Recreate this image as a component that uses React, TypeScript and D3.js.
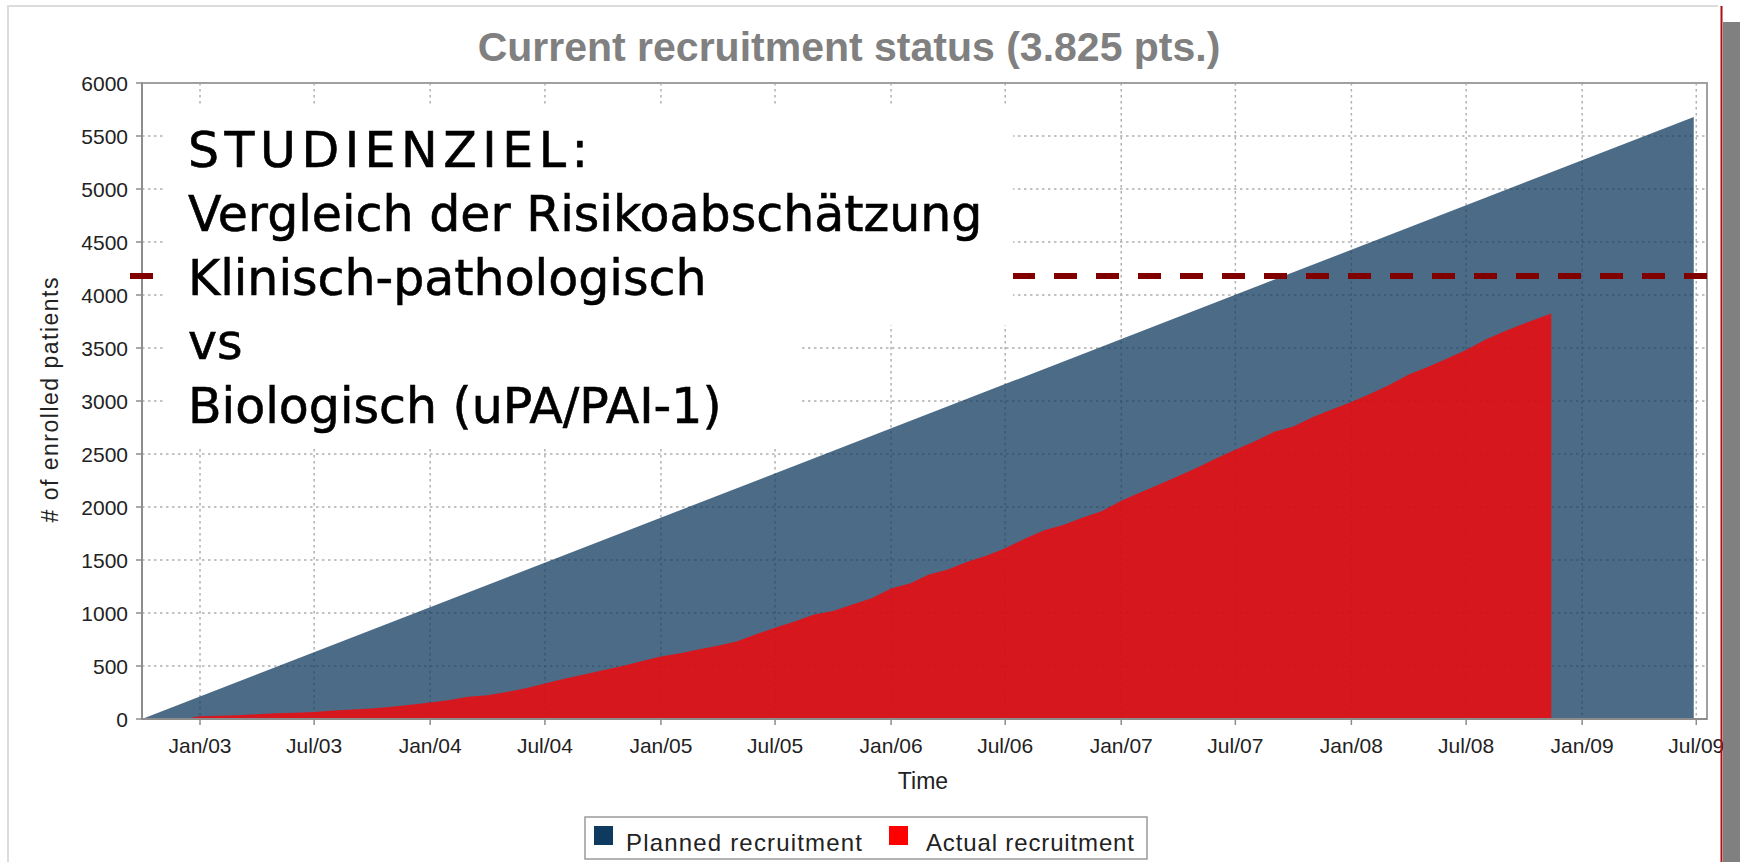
import { useMemo } from "react";
import * as d3 from "d3";

const WIDTH = 1740;
const HEIGHT = 862;
const PLOT = { left: 142, right: 1707, top: 83, bottom: 719 };

const TITLE = "Current recruitment status (3.825 pts.)";
const Y_TICKS = [0, 500, 1000, 1500, 2000, 2500, 3000, 3500, 4000, 4500, 5000, 5500, 6000];
const TARGET = 4180;

// planned recruitment: straight ramp
const plannedDates = ["2002-10-01", "2009-06-27"];
const plannedValues = [0, 5680];

// actual recruitment, cumulative per month
const actualDates = [
  "2002-12-19",
  "2003-01-01", "2003-02-01", "2003-03-01", "2003-04-01", "2003-05-01", "2003-06-01",
  "2003-07-01", "2003-08-01", "2003-09-01", "2003-10-01", "2003-11-01", "2003-12-01",
  "2004-01-01", "2004-02-01", "2004-03-01", "2004-04-01", "2004-05-01", "2004-06-01",
  "2004-07-01", "2004-08-01", "2004-09-01", "2004-10-01", "2004-11-01", "2004-12-01",
  "2005-01-01", "2005-02-01", "2005-03-01", "2005-04-01", "2005-05-01", "2005-06-01",
  "2005-07-01", "2005-08-01", "2005-09-01", "2005-10-01", "2005-11-01", "2005-12-01",
  "2006-01-01", "2006-02-01", "2006-03-01", "2006-04-01", "2006-05-01", "2006-06-01",
  "2006-07-01", "2006-08-01", "2006-09-01", "2006-10-01", "2006-11-01", "2006-12-01",
  "2007-01-01", "2007-02-01", "2007-03-01", "2007-04-01", "2007-05-01", "2007-06-01",
  "2007-07-01", "2007-08-01", "2007-09-01", "2007-10-01", "2007-11-01", "2007-12-01",
  "2008-01-01", "2008-02-01", "2008-03-01", "2008-04-01", "2008-05-01", "2008-06-01",
  "2008-07-01", "2008-08-01", "2008-09-01", "2008-10-01", "2008-11-13",
];
const actualValues = [
  15,
  25, 30, 35, 45, 55, 60, 65, 80, 90, 100, 115, 135,
  155, 180, 210, 225, 255, 290, 335, 380, 420, 460, 500, 545,
  590, 620, 655, 690, 730, 800, 860, 920, 985, 1020, 1080, 1140,
  1230, 1280, 1360, 1410, 1480, 1540, 1610, 1700, 1780, 1830, 1900, 1960,
  2060, 2140, 2210, 2290, 2370, 2460, 2540, 2620, 2710, 2760, 2850, 2920,
  2990, 3070, 3150, 3250, 3320, 3400, 3480, 3580, 3660, 3730, 3825,
];

const NOTE_LINES = [
  "STUDIENZIEL:",
  "Vergleich der Risikoabschätzung",
  "Klinisch-pathologisch",
  "vs",
  "Biologisch (uPA/PAI-1)",
];

const SANS = "Arial, 'Liberation Sans', Helvetica, sans-serif";
const NOTE_FONT = "'Comic Sans MS', 'DejaVu Sans', sans-serif";

export default function App() {
  const parse = d3.timeParse("%Y-%m-%d");

  const xScale = useMemo(
    () =>
      d3
        .scaleTime()
        .domain([new Date(2002, 9, 1), new Date(2009, 6, 18)])
        .range([PLOT.left, PLOT.right]),
    []
  );
  const yScale = useMemo(
    () => d3.scaleLinear().domain([0, 6000]).range([PLOT.bottom, PLOT.top]),
    []
  );

  const planned = plannedDates.map((d, i) => ({ date: parse(d)!, value: plannedValues[i] }));
  const actual = actualDates.map((d, i) => ({ date: parse(d)!, value: actualValues[i] }));

  const areaGen = d3
    .area<{ date: Date; value: number }>()
    .x((d) => xScale(d.date))
    .y0(yScale(0))
    .y1((d) => yScale(d.value));

  const xTicks = xScale.ticks(d3.timeMonth.every(6)!);
  const fmt = d3.timeFormat("%b/%y");

  const yTarget = yScale(TARGET);

  return (
    <svg
      width={WIDTH}
      height={HEIGHT}
      style={{ position: "absolute", left: 0, top: 0, background: "#fff" }}
    >
      {/* outer frame of the chart picture */}
      <path d={`M8,${HEIGHT} V6 H1718`} fill="none" stroke="#dcdcdc" strokeWidth={2} />

      <text
        x={849}
        y={61}
        textAnchor="middle"
        fontFamily={SANS}
        fontWeight="bold"
        fontSize={41}
        fill="#808080"
      >
        {TITLE}
      </text>

      {/* grid */}
      {Y_TICKS.slice(1).map((v) => (
        <line
          key={"gy" + v}
          x1={PLOT.left}
          x2={PLOT.right}
          y1={yScale(v)}
          y2={yScale(v)}
          stroke="#b0b0b0"
          strokeWidth={1.5}
          strokeDasharray="2.5,3.5"
        />
      ))}
      {xTicks.map((t) => (
        <line
          key={"gx" + t.getTime()}
          x1={xScale(t)}
          x2={xScale(t)}
          y1={PLOT.top}
          y2={PLOT.bottom}
          stroke="#b0b0b0"
          strokeWidth={1.5}
          strokeDasharray="2.5,3.5"
        />
      ))}

      {/* series */}
      <path d={areaGen(planned) || ""} fill="#0f3a5f" fillOpacity={0.75} />
      <path d={areaGen(actual) || ""} fill="#ff0000" fillOpacity={0.78} />

      {/* plot frame and axes */}
      <rect
        x={PLOT.left}
        y={PLOT.top}
        width={PLOT.right - PLOT.left}
        height={PLOT.bottom - PLOT.top}
        fill="none"
        stroke="#a0a0a0"
        strokeWidth={2}
      />
      <line x1={PLOT.left} x2={PLOT.left} y1={PLOT.top} y2={PLOT.bottom} stroke="#8c8c8c" strokeWidth={2} />
      <line x1={PLOT.left} x2={PLOT.right} y1={PLOT.bottom} y2={PLOT.bottom} stroke="#8c8c8c" strokeWidth={2} />

      {Y_TICKS.map((v) => (
        <g key={"ty" + v}>
          <line x1={PLOT.left - 6} x2={PLOT.left} y1={yScale(v)} y2={yScale(v)} stroke="#8c8c8c" strokeWidth={1.5} />
          <text
            x={128}
            y={yScale(v)}
            dy="0.36em"
            textAnchor="end"
            fontFamily={SANS}
            fontSize={21}
            fill="#222"
          >
            {v}
          </text>
        </g>
      ))}
      {xTicks.map((t) => (
        <g key={"tx" + t.getTime()}>
          <line x1={xScale(t)} x2={xScale(t)} y1={PLOT.bottom} y2={PLOT.bottom + 6} stroke="#8c8c8c" strokeWidth={1.5} />
          <text
            x={xScale(t)}
            y={753}
            textAnchor="middle"
            fontFamily={SANS}
            fontSize={21}
            fill="#222"
          >
            {fmt(t)}
          </text>
        </g>
      ))}

      <text
        transform="translate(58,400) rotate(-90)"
        textAnchor="middle"
        fontFamily={SANS}
        fontSize={23}
        fill="#222"
        textLength={245}
        lengthAdjust="spacing"
      >
        # of enrolled patients
      </text>
      <text x={923} y={789} textAnchor="middle" fontFamily={SANS} fontSize={23} fill="#222">
        Time
      </text>

      {/* legend */}
      <rect x={585} y={817} width={562} height={42} fill="#fff" stroke="#9a9a9a" strokeWidth={1.5} />
      <rect x={594} y={826} width={19} height={19} fill="#0f3a5f" />
      <text x={626} y={851} fontFamily={SANS} fontSize={24} fill="#222" textLength={236} lengthAdjust="spacing">
        Planned recruitment
      </text>
      <rect x={889} y={826} width={19} height={19} fill="#ff0000" />
      <text x={926} y={851} fontFamily={SANS} fontSize={24} fill="#222" textLength={208} lengthAdjust="spacing">
        Actual recruitment
      </text>

      {/* target line */}
      <line
        x1={130}
        x2={1720}
        y1={yTarget}
        y2={yTarget}
        stroke="#800000"
        strokeWidth={6}
        strokeDasharray="23,19"
      />

      {/* annotation boxes */}
      <rect x={166} y={107} width={847} height={218} fill="#fff" />
      <rect x={166} y={325} width={634} height={123} fill="#fff" />
      {NOTE_LINES.map((line, i) => (
        <text
          key={line}
          x={188}
          y={167 + i * 64}
          fontFamily={NOTE_FONT}
          fontSize={49}
          fill="#000"
          stroke="#000"
          strokeWidth={0.6}
          textLength={i === 0 ? 400 : undefined}
          lengthAdjust={i === 0 ? "spacing" : undefined}
        >
          {line}
        </text>
      ))}

      {/* slide edge on the right */}
      <rect x={1723} y={22} width={17} height={HEIGHT - 22} fill="#808080" />
      <line x1={1721.5} x2={1721.5} y1={6} y2={HEIGHT} stroke="#b01010" strokeWidth={2} />
    </svg>
  );
}
